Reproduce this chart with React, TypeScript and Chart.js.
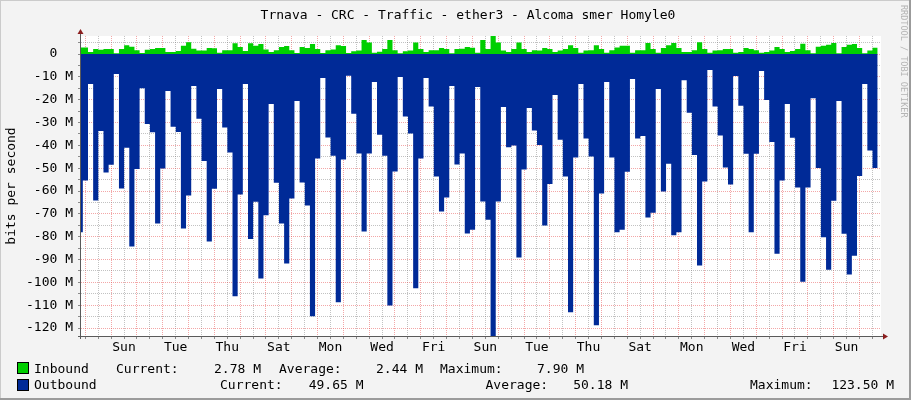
import React, { useEffect, useRef } from 'react';
import { Chart, registerables } from 'chart.js';

Chart.register(...registerables);

const TITLE = 'Trnava - CRC - Traffic - ether3 - Alcoma smer Homyle0';
const Y_TITLE = 'bits per second';
const WATERMARK = 'RRDTOOL / TOBI OETIKER';
const DAY_NAMES = ['Sat', 'Sun', 'Mon', 'Tue', 'Wed', 'Thu', 'Fri'];

// time axis in hours from graph start (31 days)
const SPAN_HOURS = 744;
const FIRST_BLOCK_END = 1.7;
const BLOCK_HOURS = 4.8;
const MIDNIGHT_OFFSET = 4.0;
const Y_MIN = -123.5;
const Y_MAX = 7.9;

// Mbit/s per 4.8 h block (first value = partial block at start)
const inbound = [2.9,
  2.9, 0.9, 2.2, 1.9, 2.2, 2.2, 0.3, 2.2, 3.9, 3.2,
  1.7, 0.4, 1.9, 2.2, 2.6, 2.6, 0.9, 0.9, 1.3, 3.6,
  5.2, 2.3, 1.5, 1.5, 2.6, 2.5, 0.6, 1.7, 1.7, 4.7,
  3.1, 1.3, 4.7, 3.6, 4.4, 2.0, 0.9, 1.7, 3.1, 3.5,
  1.7, 0.4, 3.1, 2.6, 4.4, 2.2, 0.4, 1.7, 2.0, 3.9,
  3.5, 0.5, 1.2, 1.5, 6.1, 5.1, 0.6, 1.0, 2.2, 6.1,
  1.7, 0.3, 1.2, 1.5, 5.1, 2.2, 0.9, 1.7, 1.7, 2.6,
  2.2, 0.3, 2.2, 2.3, 3.1, 2.8, 0.6, 6.1, 2.2, 7.9,
  5.1, 1.5, 0.9, 2.2, 5.1, 2.2, 0.9, 1.7, 1.5, 2.6,
  2.2, 0.9, 1.5, 2.2, 3.9, 2.6, 0.6, 1.5, 1.7, 3.9,
  2.2, 0.6, 1.7, 2.9, 3.6, 3.6, 0.6, 1.7, 1.7, 4.8,
  2.2, 0.6, 2.6, 3.9, 4.8, 2.6, 0.9, 0.9, 1.7, 5.2,
  2.2, 0.6, 1.5, 1.7, 2.2, 2.2, 0.6, 0.9, 2.6, 2.2,
  1.7, 0.6, 0.9, 1.5, 3.1, 2.2, 0.9, 1.3, 2.2, 4.5,
  1.7, 0.3, 3.2, 3.6, 4.1, 4.8, 0.3, 3.1, 4.1, 4.4,
  2.6, 0.3, 1.5, 2.8];

const outbound = [78.1,
  55.4, 13.1, 64.1, 33.7, 51.9, 48.5, 8.7, 58.9, 41.1, 84.3,
  50.3, 15.0, 30.6, 34.3, 74.2, 50.1, 16.2, 31.9, 34.1, 76.4,
  62.0, 14.0, 28.3, 46.8, 82.1, 59.0, 15.3, 32.2, 43.1, 106.1,
  61.5, 13.1, 81.0, 64.7, 98.3, 70.6, 21.9, 56.4, 74.2, 91.7,
  63.3, 20.6, 56.3, 66.3, 114.9, 45.8, 10.5, 36.6, 44.6, 108.7,
  46.2, 9.5, 26.1, 43.6, 77.7, 43.6, 12.2, 35.3, 44.5, 110.1,
  51.5, 10.1, 27.4, 34.8, 102.6, 45.8, 10.5, 23.0, 53.6, 69.0,
  62.8, 14.0, 48.4, 43.6, 78.6, 77.0, 14.4, 64.6, 72.6, 123.5,
  64.6, 23.2, 40.8, 40.1, 89.1, 50.6, 23.6, 33.5, 39.8, 75.1,
  56.9, 17.9, 37.5, 53.6, 113.1, 45.3, 13.1, 37.0, 44.9, 118.8,
  61.1, 12.2, 45.3, 78.1, 77.0, 51.6, 10.9, 37.0, 35.9, 71.6,
  69.5, 15.3, 60.2, 48.1, 79.4, 78.1, 11.5, 25.7, 44.2, 92.6,
  55.8, 7.0, 23.0, 35.7, 49.7, 57.1, 9.6, 22.6, 43.7, 78.1,
  43.7, 7.4, 20.1, 38.5, 87.5, 55.4, 21.9, 36.7, 58.5, 99.7,
  58.5, 19.4, 49.9, 80.3, 94.5, 64.3, 20.6, 78.7, 96.6, 88.3,
  53.4, 13.1, 42.3, 49.9];

const SERIES_NAMES = ['Inbound', 'Outbound'];
const SERIES_COLORS = ['#00CF00', '#002A97'];
const CURRENT = ['2.78 M', '49.65 M'];
const AVERAGE = ['2.44 M', '50.18 M'];
const MAXIMUM = ['7.90 M', '123.50 M'];

const FONT = '"DejaVu Sans Mono", monospace';

function blockStart(i: number) {
  return i === 0 ? 0 : FIRST_BLOCK_END + BLOCK_HOURS * (i - 1);
}

function toPoints(values: number[], sign: number) {
  const pts = values.map((v, i) => ({ x: blockStart(i), y: sign * v }));
  pts.push({ x: blockStart(values.length), y: sign * values[values.length - 1] });
  return pts;
}

const MAJOR = 'rgba(228,60,60,0.45)';
const MINOR = 'rgba(120,120,120,0.45)';

const rrdPlugin = {
  id: 'rrd',
  beforeDraw(chart: any) {
    const { ctx, chartArea: a, width, height } = chart;
    ctx.save();
    ctx.fillStyle = '#F3F3F3';
    ctx.fillRect(0, 0, width, height);
    ctx.fillStyle = '#CBCBCB';
    ctx.fillRect(0, 0, width, 1);
    ctx.fillRect(0, 0, 1, height);
    ctx.fillStyle = '#9B9B9B';
    ctx.fillRect(width - 2, 0, 2, height);
    ctx.fillRect(0, height - 2, width, 2);
    ctx.fillStyle = '#FFFFFF';
    ctx.fillRect(a.left, a.top, a.right - a.left, a.bottom - a.top);
    ctx.restore();
  },
  afterDraw(chart: any) {
    const { ctx, chartArea: a } = chart;
    ctx.save();
    // axes
    ctx.strokeStyle = '#5A5A5A';
    ctx.lineWidth = 1;
    ctx.beginPath();
    ctx.moveTo(a.left - 3, a.bottom + 0.5);
    ctx.lineTo(a.right + 3, a.bottom + 0.5);
    ctx.moveTo(a.left - 0.5, a.bottom + 3);
    ctx.lineTo(a.left - 0.5, a.top - 3);
    ctx.stroke();
    // arrows
    ctx.fillStyle = '#8B1E1E';
    ctx.beginPath();
    ctx.moveTo(a.right + 2, a.bottom - 2.5);
    ctx.lineTo(a.right + 7, a.bottom + 0.5);
    ctx.lineTo(a.right + 2, a.bottom + 3.5);
    ctx.closePath();
    ctx.fill();
    ctx.beginPath();
    ctx.moveTo(a.left - 3.5, a.top - 2);
    ctx.lineTo(a.left - 0.5, a.top - 7);
    ctx.lineTo(a.left + 2.5, a.top - 2);
    ctx.closePath();
    ctx.fill();

    // title
    ctx.fillStyle = '#000';
    ctx.font = `13px ${FONT}`;
    ctx.textBaseline = 'alphabetic';
    ctx.textAlign = 'center';
    ctx.fillText(TITLE, 468, 19);

    // y title
    ctx.save();
    ctx.translate(15, (a.top + a.bottom) / 2);
    ctx.rotate(-Math.PI / 2);
    ctx.textAlign = 'center';
    ctx.fillText(Y_TITLE, 0, 0);
    ctx.restore();

    // legend
    const rows = [
      { y: 372.5, box: 363, cur: [116, 261], avg: [279, 423], max: [440, 584] },
      { y: 389, box: 380, cur: [220, 363.5], avg: [485.5, 628], max: [750, 894] },
    ];
    rows.forEach((r, i) => {
      ctx.fillStyle = SERIES_COLORS[i];
      ctx.fillRect(18, r.box, 10, 10);
      ctx.strokeStyle = '#000';
      ctx.strokeRect(17.5, r.box - 0.5, 11, 11);
      ctx.fillStyle = '#000';
      ctx.textAlign = 'left';
      ctx.fillText(SERIES_NAMES[i], 34, r.y);
      ctx.fillText('Current:', r.cur[0], r.y);
      ctx.fillText('Average:', r.avg[0], r.y);
      ctx.fillText('Maximum:', r.max[0], r.y);
      ctx.textAlign = 'right';
      ctx.fillText(CURRENT[i], r.cur[1], r.y);
      ctx.fillText(AVERAGE[i], r.avg[1], r.y);
      ctx.fillText(MAXIMUM[i], r.max[1], r.y);
    });

    // watermark
    ctx.save();
    ctx.translate(903, 5);
    ctx.rotate(Math.PI / 2);
    ctx.font = `8.5px ${FONT}`;
    ctx.fillStyle = '#B4B4B4';
    ctx.textAlign = 'left';
    ctx.textBaseline = 'middle';
    ctx.fillText(WATERMARK, 0, 0);
    ctx.restore();
    ctx.restore();
  },
};

export default function App() {
  const ref = useRef<HTMLCanvasElement | null>(null);

  useEffect(() => {
    document.body.style.margin = '0';
    const canvas = ref.current;
    if (!canvas) return;

    const xTicks: number[] = [];
    for (let d = 0; d < 32; d++) {
      const m = MIDNIGHT_OFFSET + 24 * d;
      const n = m + 12;
      if (m <= SPAN_HOURS) xTicks.push(m);
      if (n <= SPAN_HOURS) xTicks.push(n);
    }
    const yTicks: number[] = [];
    for (let v = -120; v <= 5; v += 5) yTicks.push(v);

    const isMidnight = (v: number) => Math.abs(((v - MIDNIGHT_OFFSET) % 24 + 24) % 24) < 1e-6;

    const chart = new Chart(canvas, {
      type: 'line',
      data: {
        datasets: [
          {
            label: SERIES_NAMES[0],
            data: toPoints(inbound, 1),
            stepped: 'before',
            fill: 'origin',
            backgroundColor: SERIES_COLORS[0],
            borderColor: 'rgba(0,0,0,0)',
            borderWidth: 0,
            pointRadius: 0,
          },
          {
            label: SERIES_NAMES[1],
            data: toPoints(outbound, -1),
            stepped: 'before',
            fill: 'origin',
            backgroundColor: SERIES_COLORS[1],
            borderColor: 'rgba(0,0,0,0)',
            borderWidth: 0,
            pointRadius: 0,
          },
        ],
      },
      options: {
        animation: false,
        responsive: false,
        devicePixelRatio: 1,
        layout: { padding: { left: 0, top: 36, right: 30, bottom: 0 } },
        plugins: { legend: { display: false }, tooltip: { enabled: false }, title: { display: false } },
        scales: {
          x: {
            type: 'linear',
            min: 0,
            max: SPAN_HOURS,
            z: 1,
            afterFit: (s: any) => { s.height = 64; },
            afterBuildTicks: (s: any) => { s.ticks = xTicks.map((v) => ({ value: v })); },
            grid: {
              color: (c: any) => (c.tick && isMidnight(c.tick.value) ? MAJOR : MINOR),
              lineWidth: 1,
              drawTicks: true,
              tickLength: 3,
              tickColor: '#8A8A8A',
            },
            border: { display: false, dash: [1, 1] },
            ticks: {
              autoSkip: false,
              maxRotation: 0,
              padding: 1,
              color: '#000',
              font: { family: FONT, size: 13 },
              callback: (v: any) => {
                const h = Number(v);
                const noon = h - 12 - MIDNIGHT_OFFSET;
                if (Math.abs(((noon % 24) + 24) % 24) > 1e-6) return '';
                const d = Math.round(noon / 24);
                return d % 2 === 1 ? DAY_NAMES[d % 7] : '';
              },
            },
          },
          y: {
            type: 'linear',
            min: Y_MIN,
            max: Y_MAX,
            z: 1,
            afterFit: (s: any) => { s.width = 81; },
            afterBuildTicks: (s: any) => { s.ticks = yTicks.map((v) => ({ value: v })); },
            grid: {
              color: (c: any) => (c.tick && c.tick.value % 10 === 0 ? MAJOR : MINOR),
              lineWidth: 1,
              drawTicks: true,
              tickLength: 3,
              tickColor: '#8A8A8A',
            },
            border: { display: false, dash: [1, 1] },
            ticks: {
              autoSkip: false,
              padding: 5,
              color: '#000',
              font: { family: FONT, size: 13 },
              callback: (v: any) => {
                const n = Number(v);
                if (n % 10 !== 0) return '';
                return n === 0 ? '0  ' : `${n} M`;
              },
            },
          },
        },
      },
      plugins: [rrdPlugin],
    } as any);

    return () => chart.destroy();
  }, []);

  return (
    <div style={{ position: 'fixed', left: 0, top: 0, width: 911, height: 400 }}>
      <canvas ref={ref} width={911} height={400} style={{ width: 911, height: 400, display: 'block' }} />
    </div>
  );
}
